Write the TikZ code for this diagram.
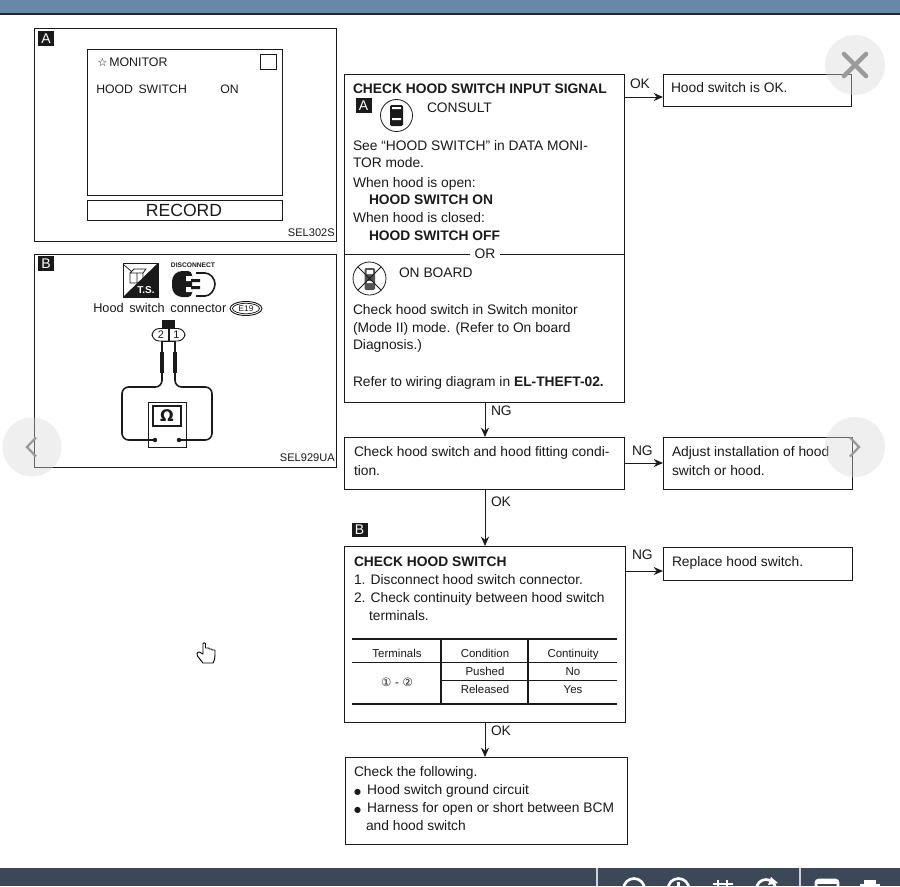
\documentclass[tikz,border=0pt]{standalone}
\usepackage{fontspec}
\setmainfont{Liberation Sans}
\newfontfamily\dejavu{DejaVu Sans}
\usetikzlibrary{arrows.meta,calc}
\definecolor{ink}{HTML}{1A1A1A}
\definecolor{barblue}{HTML}{6888A8}
\definecolor{bardark}{HTML}{3C4858}
\definecolor{overlay}{HTML}{D9D9D9}
\definecolor{overlaymark}{HTML}{9A9A9A}
\tikzset{
  x=0.75pt,y=-0.75pt,
  fbox/.style={draw=ink,line width=0.7pt},
  txt/.style={anchor=base west,inner sep=0pt,outer sep=0pt,text=ink,font=\fontsize{10.35}{12}\selectfont},
  btxt/.style={txt,font=\fontsize{10.35}{12}\selectfont\bfseries},
  ctxt/.style={anchor=base,inner sep=0pt,outer sep=0pt,text=ink,font=\fontsize{8.6}{10}\selectfont},
  lab/.style={anchor=base west,inner sep=0pt,outer sep=0pt,text=ink,font=\fontsize{10.35}{12}\selectfont},
  arr/.style={draw=ink,line width=0.75pt,-{Stealth[length=7pt,width=6pt]}},
  tag/.style={fill=ink,text=white,inner sep=0pt,minimum width=12pt,minimum height=11pt,font=\fontsize{10.5}{11}\selectfont},
  wire/.style={draw=ink,line width=1.2pt,rounded corners=5pt},
  sleeve/.style={draw=ink,line width=3pt},
  rule/.style={draw=ink,line width=1.5pt},
  thin/.style={draw=ink,line width=0.55pt},
  ov/.style={fill=overlay,draw=none,opacity=.4},
  ovm/.style={draw=overlaymark,line width=3.4pt,line cap=round,line join=round},
  chev/.style={draw=overlaymark,line width=1.7pt,line join=miter},
  tb/.style={draw=white,line width=2pt}
}
\begin{document}
\begin{tikzpicture}
\useasboundingbox (0,0) rectangle (900,886);
\fill[white] (0,0) rectangle (900,886);
% browser bars
\fill[barblue] (0,0) rectangle (900,13);
\fill[black!85] (0,13) rectangle (900,14.5);
\fill[bardark] (0,868) rectangle (900,886);

% Panel A
\draw[fbox] (34,28) rectangle (336,241.5);
\node[tag] (tagA) at (46,38.5) {A};
\draw[fbox] (87,49) rectangle (282,195.5);
\draw[fbox] (260,54) rectangle (276,69);
\node[anchor=base west,inner sep=0pt,font=\fontsize{8.5}{10}\selectfont\dejavu,text=ink] (star) at (97,66) {☆};
\node[anchor=base west,inner sep=0pt,font=\fontsize{9.3}{11}\selectfont,text=ink] (mon) at (109,66) {MONITOR};
\node[anchor=base west,inner sep=0pt,font=\fontsize{9.2}{11}\selectfont,text=ink] (hs) at (96,93) {HOOD\, SWITCH};
\node[anchor=base west,inner sep=0pt,font=\fontsize{9.2}{11}\selectfont,text=ink] (on) at (220,93) {ON};
\draw[fbox] (87,200.5) rectangle (282,220);
\node[anchor=base,inner sep=0pt,font=\fontsize{13.2}{15}\selectfont,text=ink] (rec) at (184,216.5) {RECORD};
\node[anchor=base east,inner sep=0pt,font=\fontsize{8.3}{10}\selectfont,text=ink] (sela) at (335,236) {SEL302S};

% Panel B
\draw[fbox] (34,254) rectangle (336,467);
\node[tag] (tagB) at (46,263.5) {B};
% T.S. icon
\draw[thin] (123,263) rectangle (158,297);
\fill[ink] (158,263) -- (158,297) -- (123,297) -- cycle;
\node[anchor=center,inner sep=0pt,text=white,font=\fontsize{7.5}{8}\selectfont\bfseries] (ts) at (146,290) {T.S.};
\draw[thin] (130,273) rectangle (137,283) (137,273) rectangle (143,283) (130,273) -- (134,269) -- (146,269) -- (143,273);
\draw[thin] (124,265) -- (131,271);
% disconnect icon
\node[anchor=center,inner sep=0pt,font=\fontsize{5}{6}\selectfont\bfseries,text=ink] (dis) at (193,265.5) {DISCONNECT};
\fill[ink,rounded corners=3pt] (172,277) -- (178,271) -- (192,271) -- (192,297) -- (178,297) -- (172,291) -- cycle;
\fill[white] (186,276) rectangle (192,281) (186,287) rectangle (192,292);
\fill[ink] (191,279) rectangle (200,282) (191,286) rectangle (200,289);
\draw[fbox,line width=1.2pt,rounded corners=3pt] (196,273) -- (209,273) -- (215,280) -- (215,288) -- (209,296) -- (196,296);
\node[anchor=base west,inner sep=0pt,font=\fontsize{9.55}{11}\selectfont,text=ink] (hsc) at (93,312) {Hood\, switch\, connector};
\draw[fbox] (246,308.5) ellipse (16 and 7);
\draw[thin] (246,308.5) ellipse (13.5 and 5.2);
\node[anchor=center,inner sep=0pt,font=\fontsize{6.2}{7}\selectfont,text=ink] (e19) at (246,308.5) {E19};
% connector pins
\fill[ink] (162,320) rectangle (175,328);
\draw[fbox,rounded corners=5.5pt] (152,328.5) rectangle (185,341);
\draw[thin,line width=0.9pt] (169,328.5) -- (169,341) (163,341.5) -- (175,341.5);
\node[anchor=center,inner sep=0pt,font=\fontsize{8.2}{9}\selectfont,text=ink] (p2) at (161,334.7) {2};
\node[anchor=center,inner sep=0pt,font=\fontsize{8.2}{9}\selectfont,text=ink] (p1) at (176.5,334.7) {1};
% meter
\draw[fbox] (148,402) rectangle (186,447);
\draw[fbox,line width=1.1pt] (153,406) rectangle (181,426);
\node[anchor=center,inner sep=0pt,font=\fontsize{12}{13}\selectfont\bfseries\dejavu,text=ink] (ohm) at (167,416) {Ω};
\coordinate (ml) at (155,440);
\coordinate (mr) at (179,440);
\fill[ink] (ml) circle (2.2) (mr) circle (2.2);
\coordinate (w2) at (162,341);
\coordinate (w1) at (175,341);
\draw[wire] (w2) -- (162,387) -- (122,387) -- (122,440) -- (ml);
\draw[wire] (w1) -- (175,387) -- (212,387) -- (212,440) -- (mr);
\draw[sleeve] (162,352) -- (162,373) (175,352) -- (175,373);
\node[anchor=base east,inner sep=0pt,font=\fontsize{8.3}{10}\selectfont,text=ink] (selb) at (335,461) {SEL929UA};

% Flow boxes
\node[fbox,inner sep=0pt,minimum width=210pt,minimum height=246pt,anchor=north west] (b1) at (344,73.5) {};
\node[fbox,inner sep=0pt,minimum width=141pt,minimum height=24.5pt,anchor=north west] (r1) at (663,73.5) {};
\node[fbox,inner sep=0pt,minimum width=210pt,minimum height=39pt,anchor=north west] (b2) at (344,437) {};
\node[fbox,inner sep=0pt,minimum width=141.5pt,minimum height=39pt,anchor=north west] (r2) at (663,437) {};
\node[fbox,inner sep=0pt,minimum width=211pt,minimum height=132pt,anchor=north west] (b3) at (344,546) {};
\node[fbox,inner sep=0pt,minimum width=141.5pt,minimum height=25pt,anchor=north west] (r3) at (663,547) {};
\node[fbox,inner sep=0pt,minimum width=211.5pt,minimum height=65.5pt,anchor=north west] (b4) at (345,757) {};

% Box 1 text
\node[btxt] (t1) at (353,93) {CHECK HOOD SWITCH INPUT SIGNAL};
\node[tag,minimum height=11.5pt] (tagA2) at (363.5,105.5) {A};
\draw[fbox,line width=0.6pt] (396.5,115.5) circle (16);
\fill[ink,rounded corners=1pt] (390,105) rectangle (403,126);
\fill[white] (392,107) rectangle (401,109) (392,118) rectangle (401,120);
\node[txt] (t2) at (427,112) {CONSULT};
\node[txt] (t3) at (353,150) {See “HOOD SWITCH” in DATA MONI-};
\node[txt] (t4) at (353,167) {TOR mode.};
\node[txt] (t5) at (353,187) {When hood is open:};
\node[btxt] (t6) at (369,204) {HOOD SWITCH ON};
\node[txt] (t7) at (353,222.5) {When hood is closed:};
\node[btxt] (t8) at (369,240) {HOOD SWITCH OFF};
\node[anchor=center,inner sep=0pt,font=\fontsize{10.35}{12}\selectfont,text=ink] (ortxtb) at (485,254) {OR};
\coordinate (orL) at (344,254);
\coordinate (orR) at (624,254);
\draw[fbox] (orL) -- ([xshift=-3pt]ortxtb.west) ([xshift=3pt]ortxtb.east) -- (orR);
% on board icon
\draw[fbox,line width=0.6pt] (369.5,278.5) circle (16.5);
\fill[ink!75,rounded corners=1pt] (364.5,268) rectangle (375,290);
\fill[white] (366.5,270) rectangle (373,274) (366.5,281) rectangle (373,283);
\draw[fbox,line width=0.6pt] (358,267) -- (381,290) (381,267) -- (358,290);
\node[txt] (t9) at (399,277) {ON BOARD};
\node[txt] (t10) at (353,314) {Check hood switch in Switch monitor};
\node[txt] (t11) at (353,332) {(Mode II) mode. (Refer to On board};
\node[txt] (t12) at (353,349) {Diagnosis.)};
\node[txt] (t13) at (353,386) {Refer to wiring diagram in \textbf{EL-THEFT-02.}};

\node[txt] (r1t) at (671,92) {Hood switch is OK.};
\node[txt] (b2t1) at (354,456.5) {Check hood switch and hood fitting condi-};
\node[txt] (b2t2) at (354,475) {tion.};
\node[txt] (r2t1) at (672,456.5) {Adjust installation of hood};
\node[txt] (r2t2) at (672,475) {switch or hood.};
\node[tag] (tagB2) at (359.5,530) {B};
\node[btxt] (b3t1) at (354,566) {CHECK HOOD SWITCH};
\node[txt] (b3t2) at (354,584) {1. Disconnect hood switch connector.};
\node[txt] (b3t3) at (354,602) {2. Check continuity between hood switch};
\node[txt] (b3t4) at (369,620) {terminals.};
\node[txt] (r3t) at (672,566) {Replace hood switch.};

% table
\draw[rule] (352,638.5) -- (617,638.5);
\draw[rule] (352,703.5) -- (617,703.5);
\draw[thin] (352,662.5) -- (617,662.5) (441,680.5) -- (617,680.5);
\draw[thin,line width=0.8pt] (441,638.5) -- (441,703.5) (528,638.5) -- (528,703.5);
\node[ctxt] (h1) at (397,657) {Terminals};
\node[ctxt] (h2) at (485,657) {Condition};
\node[ctxt] (h3) at (573,657) {Continuity};
\node[ctxt,font=\fontsize{8.6}{10}\selectfont\dejavu] (c1) at (397,686) {① - ②};
\node[ctxt] (c2) at (485,675) {Pushed};
\node[ctxt] (c3) at (573,675) {No};
\node[ctxt] (c4) at (485,693) {Released};
\node[ctxt] (c5) at (573,693) {Yes};

% last box
\node[txt] (b4t1) at (354,776) {Check the following.};
\node[txt] (b4t2) at (354,794) {{\dejavu\fontsize{6}{6}\selectfont ●}\, Hood switch ground circuit};
\node[txt] (b4t3) at (354,812) {{\dejavu\fontsize{6}{6}\selectfont ●}\, Harness for open or short between BCM};
\node[txt] (b4t4) at (366,830) {and hood switch};

% connectors
\coordinate (a1) at (624,97);
\coordinate (a2) at (624,463);
\coordinate (a3) at (625,571);
\draw[arr] (a1) -- (r1.west |- a1);
\draw[arr] (a2) -- (r2.west |- a2);
\draw[arr] (a3) -- (r3.west |- a3);
\coordinate (v) at (485,300);
\draw[arr] (b1.south -| v) -- (b2.north -| v);
\draw[arr] (b2.south -| v) -- (b3.north -| v);
\draw[arr] (b3.south -| v) -- (b4.north -| v);
\node[lab] (l1) at (630,88) {OK};
\node[lab] (l2) at (632,455) {NG};
\node[lab] (l3) at (632,559) {NG};
\node[lab] (l4) at (491,415) {NG};
\node[lab] (l5) at (491,506) {OK};
\node[lab] (l6) at (491,735) {OK};

% overlay buttons
\fill[ov] (855,65) circle (30);
\draw[ovm] (844,54) -- (866,76) (866,54) -- (844,76);
\fill[ov] (32,447) circle (29.5);
\draw[chev] (36,437.5) -- (27,447) -- (36,456.5);
\fill[ov] (855,447) circle (30);
\draw[chev] (850,437.5) -- (859,447) -- (850,456.5);

% hand cursor
\filldraw[fill=white,draw=black,line width=0.7pt,line join=round]
 (203,643.5) -- (203,654) -- (199.5,652) .. controls (196.5,652) and (196.5,654) .. (197.5,656)
 -- (203,663) -- (213,663) .. controls (215,660) and (215,656) .. (215,652)
 -- (215,650) -- (212,650) -- (212,649) -- (209,649) -- (209,648) -- (205.5,648) -- (205.5,643.5) .. controls (205.5,642.5) and (203,642.5) .. (203,643.5) -- cycle;

% toolbar
\draw[white!75!bardark,line width=1pt] (597,868) -- (597,886) (800,868) -- (800,886);
\begin{scope}
\clip (590,868) rectangle (900,886);
\draw[tb] (634,889) circle (10.5) (678.5,889) circle (10.5);
\draw[tb] (678.5,882) -- (678.5,886);
\draw[tb] (718,880) -- (718,886) (727,880) -- (727,886) (713,884) -- (733,884);
\draw[tb] (766,889) circle (9.5);
\fill[white] (771,877) -- (778,883) -- (768,885) -- cycle;
\draw[tb,rounded corners=2pt] (816,886) -- (816,880) -- (838,880) -- (838,886);
\fill[white] (816,880) rectangle (838,884);
\fill[white] (864,880) rectangle (876,886);
\fill[white] (860,884) rectangle (880,886);
\end{scope}
\end{tikzpicture}
\end{document}
